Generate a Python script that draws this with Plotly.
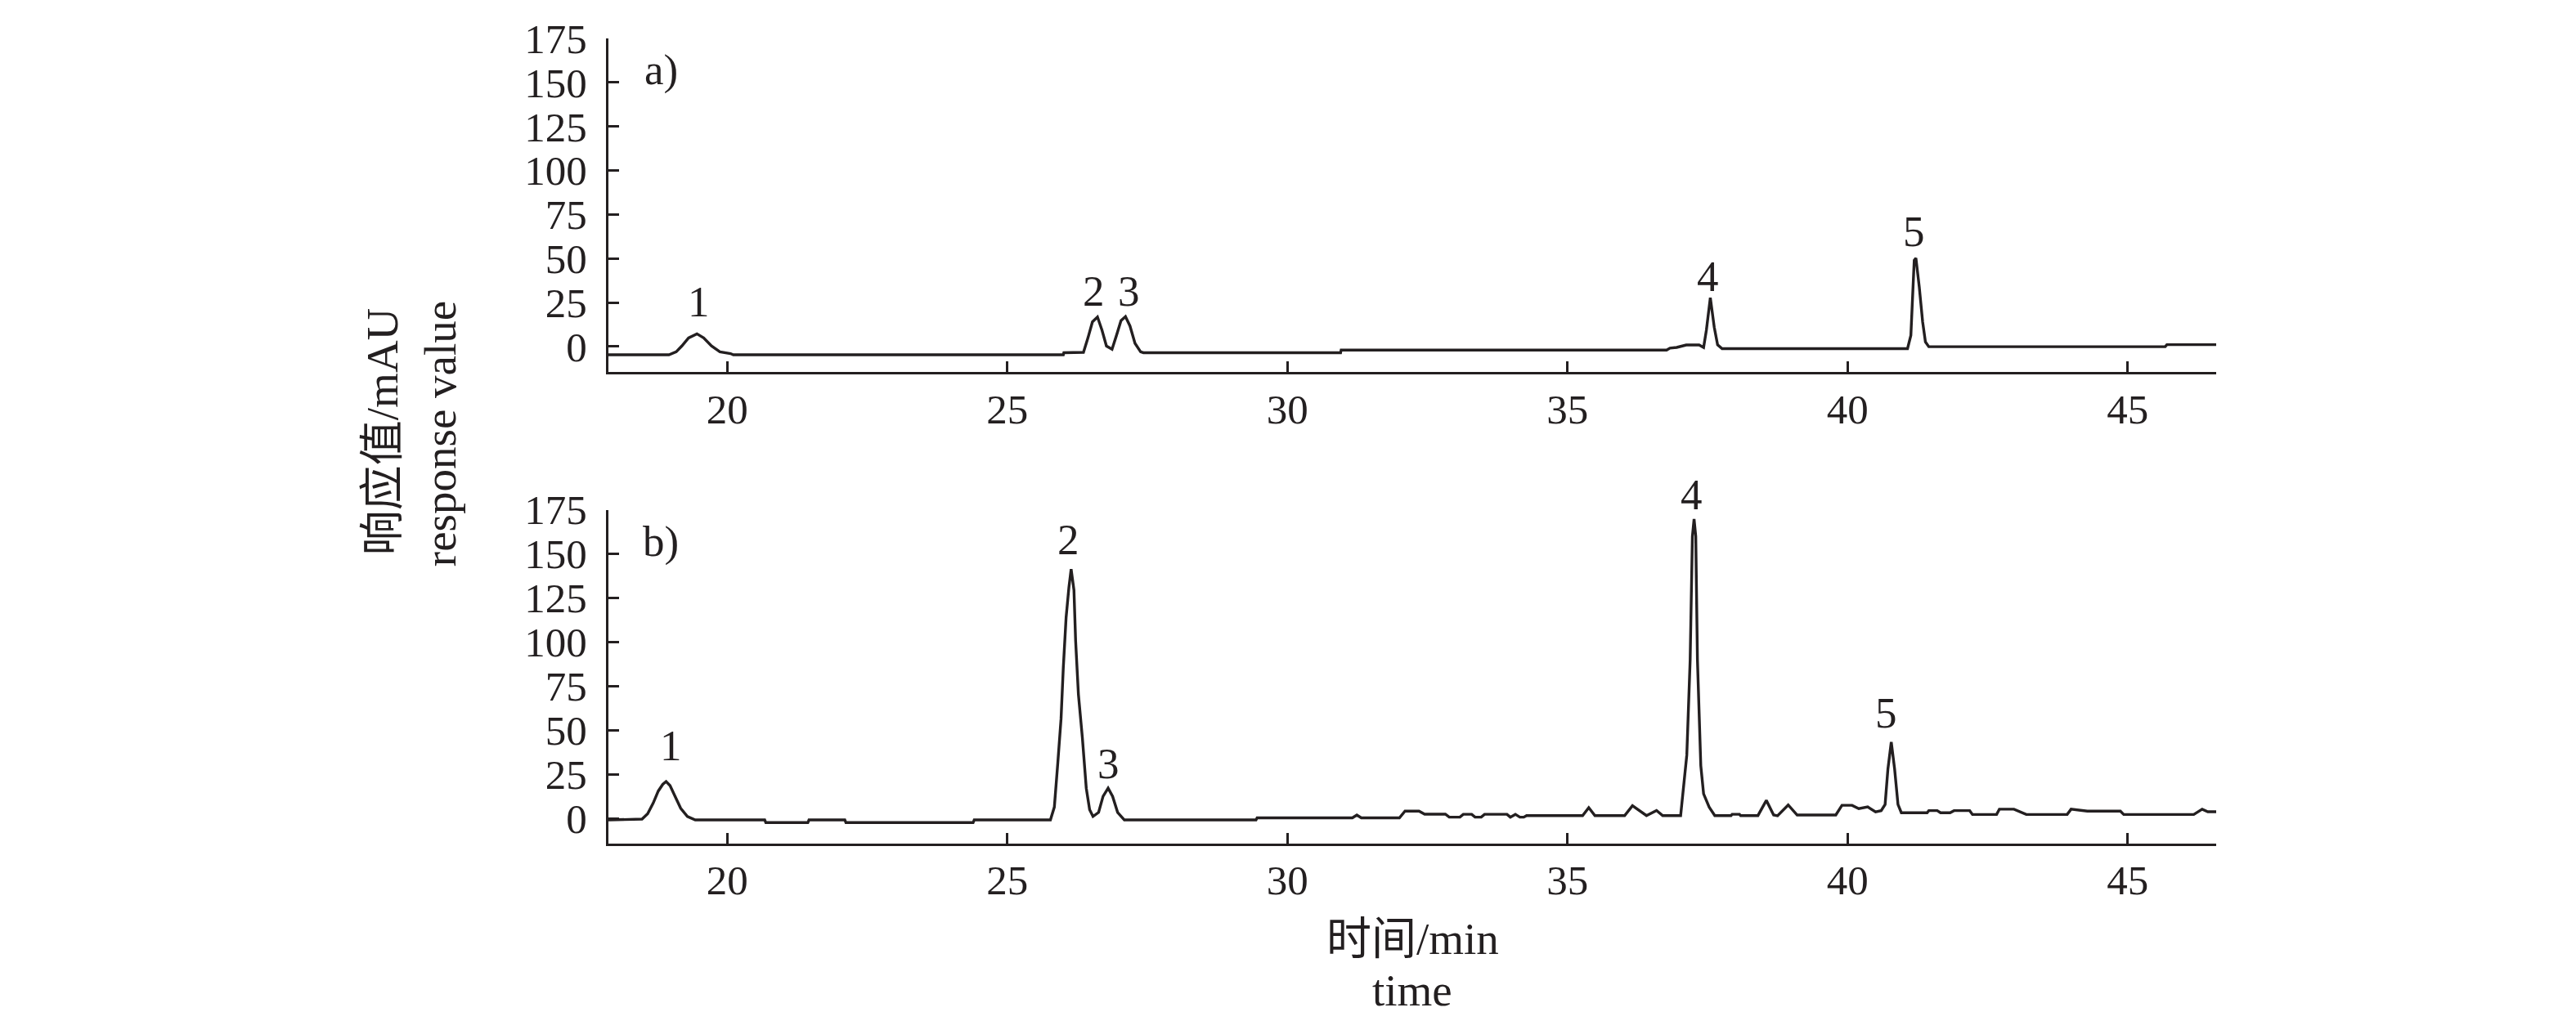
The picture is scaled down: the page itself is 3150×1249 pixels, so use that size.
import plotly.graph_objects as go

# ---------------- data ----------------
# panel a) chromatogram (time in min, response in mAU)
time_a = [17.88, 18.96, 19.09, 19.19, 19.31, 19.46, 19.58, 19.72, 19.87, 20.06, 20.11,
          26.00, 26.01, 26.36, 26.44, 26.52, 26.61, 26.69, 26.77, 26.87, 26.95, 27.03,
          27.11, 27.19, 27.28, 27.38, 27.43, 30.95, 30.96, 36.77, 36.83, 36.95, 37.12,
          37.35, 37.43, 37.48, 37.55, 37.62, 37.68, 37.76, 41.07, 41.13, 41.19, 41.22,
          41.28, 41.34, 41.39, 41.45, 45.67, 45.70, 46.60]
resp_a = [-4.7, -4.7, -3.0, 0.3, 4.9, 7.2, 4.9, 0.3, -3.0, -4.0, -4.7,
          -4.7, -3.5, -3.3, 4.9, 14.0, 16.8, 9.4, 0.3, -1.5, 6.4, 14.7,
          17.0, 11.7, 1.8, -3.0, -3.5, -3.5, -2.0, -2.0, -0.9, -0.5, 0.9,
          0.9, -0.5, 9.4, 27.7, 11.0, 1.0, -1.2, -1.2, 6.4, 49.0, 50.2,
          33.8, 14.0, 2.6, -0.1, -0.1, 1.05, 1.05]

# panel b) chromatogram
time_b = [17.88, 18.48, 18.58, 18.68, 18.77, 18.85, 18.91, 18.98, 19.07, 19.17, 19.29, 19.43,
          20.67, 20.69, 21.44, 21.46, 22.10, 22.12, 24.39, 24.41, 25.77, 25.84, 25.90, 25.96,
          26.00, 26.05, 26.10, 26.14, 26.19, 26.22, 26.27, 26.34, 26.41, 26.47, 26.53, 26.63,
          26.71, 26.80, 26.88, 26.97, 27.09, 29.44, 29.46, 31.16, 31.24, 31.32, 32.00, 32.10,
          32.35, 32.45, 32.82, 32.89, 33.08, 33.14, 33.29, 33.35, 33.46, 33.52, 33.92, 33.98,
          34.07, 34.15, 34.22, 34.27, 35.27, 35.38, 35.49, 36.02, 36.16, 36.41, 36.59, 36.70,
          37.02, 37.06, 37.13, 37.19, 37.23, 37.26, 37.29, 37.32, 37.36, 37.38, 37.43, 37.53,
          37.63, 37.92, 37.94, 38.07, 38.09, 38.40, 38.55, 38.68, 38.75, 38.94, 39.10, 39.79,
          39.90, 40.08, 40.20, 40.36, 40.50, 40.60, 40.67, 40.72, 40.78, 40.84, 40.90, 40.96,
          41.42, 41.45, 41.60, 41.66, 41.83, 41.90, 42.18, 42.23, 42.66, 42.71, 42.97, 43.19,
          43.92, 43.99, 44.28, 44.87, 44.93, 46.18, 46.33, 46.43, 46.60]
resp_b = [-0.8, -0.3, 2.7, 8.8, 15.6, 19.4, 21.0, 18.7, 12.6, 5.8, 1.2, -0.8,
          -0.8, -2.3, -2.3, -0.8, -0.8, -2.3, -2.3, -0.8, -0.8, 6.5, 30.8, 56.6,
          85.5, 114.0, 131.0, 141.4, 129.5, 100.7, 70.3, 46.0, 17.2, 5.0, 1.2, 3.5,
          12.6, 17.2, 12.6, 3.5, -0.8, -0.8, 0.4, 0.4, 2.0, 0.4, 0.4, 4.2,
          4.2, 2.5, 2.5, 0.8, 0.8, 2.4, 2.4, 0.8, 0.8, 2.4, 2.4, 0.8,
          2.4, 0.8, 0.8, 1.7, 1.7, 6.2, 1.7, 1.7, 7.3, 1.7, 4.6, 1.7,
          1.7, 13.4, 36.0, 90.0, 160.0, 169.8, 160.0, 90.0, 50.0, 30.0, 14.0, 6.5,
          1.7, 1.7, 2.4, 2.4, 1.7, 1.7, 10.3, 2.0, 1.6, 7.7, 2.0, 2.0,
          7.5, 7.5, 5.6, 6.6, 3.8, 4.5, 8.0, 28.0, 43.4, 28.0, 8.0, 3.3,
          3.3, 4.5, 4.5, 3.3, 3.3, 4.5, 4.5, 2.3, 2.3, 5.3, 5.3, 2.3,
          2.3, 5.3, 4.2, 4.2, 2.3, 2.3, 5.3, 3.9, 3.9]

# peak labels (text, time, response position of label)
peak_text = ["1", "2", "3", "4", "5"]
peak_a_x = [19.50, 26.55, 27.17, 37.50, 41.19]
peak_a_y = [25.6, 31.5, 31.5, 39.7, 65.3]
peak_b_x = [18.99, 26.09, 26.80, 37.21, 40.69]
peak_b_y = [41.5, 158.0, 31.4, 183.6, 60.1]

panel_labels = ["a)", "b)"]
x_ticks = [20, 25, 30, 35, 40, 45]
y_ticks = [0, 25, 50, 75, 100, 125, 150, 175]
x_range = [17.88, 46.58]
y_range_a = [-14.6, 175]
y_range_b = [-14.2, 175]

ytitle_lines = ["响应值/mAU", "response value"]
xtitle_lines = ["时间/min", "time"]

# ---------------- style ----------------
INK = "#231f20"
FONT = "Liberation Serif, Times New Roman, Noto Sans CJK SC, serif"
OFF = 8                      # default page body margin of the html page
W, H = 3150 - OFF, 1249 - OFF
# plot area in page pixels, converted to figure pixels
L, R, T, B = 744 - OFF, 2710 - OFF, 31 - OFF, 1032 - OFF

def px(xp):
    return (xp - OFF - L) / (R - L)

def py(yp):
    return (B - (yp - OFF)) / (B - T)

fig = go.Figure()
fig.add_trace(go.Scatter(x=time_a, y=resp_a, mode="lines",
                         line=dict(color=INK, width=3.4), xaxis="x", yaxis="y",
                         showlegend=False, hoverinfo="skip"))
fig.add_trace(go.Scatter(x=time_b, y=resp_b, mode="lines",
                         line=dict(color=INK, width=3.4), xaxis="x2", yaxis="y2",
                         showlegend=False, hoverinfo="skip"))

axis_common = dict(showline=True, linecolor=INK, linewidth=3, ticks="inside",
                   ticklen=13, tickwidth=3, tickcolor=INK, showgrid=False, zeroline=False,
                   tickfont=dict(family=FONT, size=51, color=INK), mirror=False)

dom_a = [py(446), 1.0]
dom_b = [0.0, py(617)]

fig.update_layout(
    width=W, height=H,
    margin=dict(l=L, r=W - R, t=T, b=H - B, pad=0),
    paper_bgcolor="white", plot_bgcolor="white",
    showlegend=False,
    xaxis=dict(domain=[0, 1], anchor="y", range=x_range, tickvals=x_ticks,
               ticklabelstandoff=-2, **axis_common),
    yaxis=dict(domain=dom_a, anchor="x", range=y_range_a, tickvals=y_ticks,
               ticklabelstandoff=13, **axis_common),
    xaxis2=dict(domain=[0, 1], anchor="y2", range=x_range, tickvals=x_ticks,
                ticklabelstandoff=-2, **axis_common),
    yaxis2=dict(domain=dom_b, anchor="x2", range=y_range_b, tickvals=y_ticks,
                ticklabelstandoff=13, **axis_common),
)

ann = []
lab_font = dict(family=FONT, size=53, color=INK)
for t, x, y in zip(peak_text, peak_a_x, peak_a_y):
    ann.append(dict(text=t, x=x, y=(y - y_range_a[0]) / (y_range_a[1] - y_range_a[0]),
                    xref="x", yref="y domain", showarrow=False,
                    xanchor="center", yanchor="middle", font=lab_font))
for t, x, y in zip(peak_text, peak_b_x, peak_b_y):
    ann.append(dict(text=t, x=x, y=(y - y_range_b[0]) / (y_range_b[1] - y_range_b[0]),
                    xref="x2", yref="y2 domain", showarrow=False,
                    xanchor="center", yanchor="middle", font=lab_font))

# panel letters
ann.append(dict(text=panel_labels[0], x=px(808), y=py(70), xref="paper", yref="paper",
                showarrow=False, xanchor="center", yanchor="middle", font=lab_font))
ann.append(dict(text=panel_labels[1], x=px(808), y=py(657), xref="paper", yref="paper",
                showarrow=False, xanchor="center", yanchor="middle", font=lab_font))

title_font = dict(family=FONT, size=55, color=INK)
# y title (two rotated lines)
ann.append(dict(text=ytitle_lines[0], x=px(467), y=py(520), xref="paper", yref="paper",
                showarrow=False, textangle=-90, xanchor="center", yanchor="middle",
                font=title_font))
ann.append(dict(text=ytitle_lines[1], x=px(538), y=py(523), xref="paper", yref="paper",
                showarrow=False, textangle=-90, xanchor="center", yanchor="middle",
                font=title_font))
# x title (two lines)
ann.append(dict(text=xtitle_lines[0], x=px(1727), y=py(1150), xref="paper", yref="paper",
                showarrow=False, xanchor="center", yanchor="middle", font=title_font))
ann.append(dict(text=xtitle_lines[1], x=px(1727), y=py(1214), xref="paper", yref="paper",
                showarrow=False, xanchor="center", yanchor="middle", font=title_font))

fig.update_layout(annotations=ann)
fig.write_html("out.html")
